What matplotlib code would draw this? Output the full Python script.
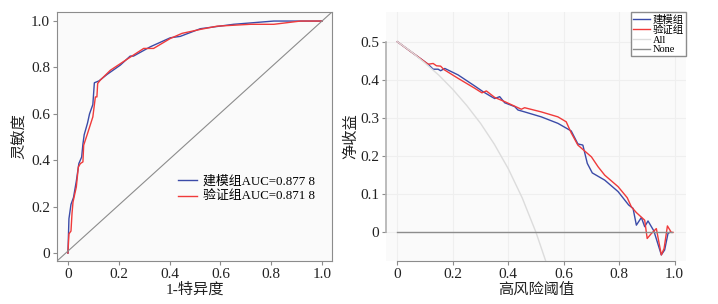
import matplotlib
matplotlib.use("Agg")
import matplotlib.pyplot as plt

plt.rcParams['font.family'] = ['Liberation Serif', 'Noto Sans CJK SC']
plt.rcParams['axes.unicode_minus'] = False

# ROC data
roc_train_x = [0, 0.004, 0.012, 0.022, 0.033, 0.043, 0.054, 0.059, 0.064, 0.077, 0.085, 0.098,
               0.104, 0.122, 0.154, 0.206, 0.245, 0.258, 0.324, 0.403, 0.442, 0.521, 0.652, 0.81, 1.0]
roc_train_y = [0, 0.148, 0.21, 0.24, 0.31, 0.386, 0.414, 0.47, 0.51, 0.56, 0.60, 0.64,
               0.734, 0.742, 0.77, 0.81, 0.849, 0.849, 0.889, 0.928, 0.934, 0.967, 0.986, 1.0, 1.0]
roc_valid_x = [0, 0.004, 0.012, 0.016, 0.02, 0.033, 0.041, 0.049, 0.059, 0.062, 0.077, 0.098,
               0.108, 0.114, 0.117, 0.127, 0.167, 0.232, 0.298, 0.337, 0.403, 0.449, 0.521,
               0.587, 0.718, 0.81, 0.915, 1.0]
roc_valid_y = [0, 0.083, 0.095, 0.17, 0.22, 0.285, 0.371, 0.386, 0.393, 0.465, 0.515, 0.587,
               0.673, 0.673, 0.731, 0.745, 0.788, 0.835, 0.882, 0.882, 0.925, 0.947, 0.964,
               0.978, 0.986, 0.986, 1.0, 1.0]
auc_labels = ["建模组AUC=0.877 8", "验证组AUC=0.871 8"]

# DCA data
dca_train_x = [0, 0.111, 0.129, 0.147, 0.156, 0.171, 0.219, 0.279, 0.309, 0.339, 0.351, 0.369,
               0.387, 0.423, 0.435, 0.459, 0.519, 0.579, 0.627, 0.651, 0.669, 0.685, 0.703,
               0.748, 0.796, 0.834, 0.850, 0.862, 0.880, 0.892, 0.904, 0.925, 0.952, 0.964,
               0.976, 0.982]
dca_train_y = [0.5, 0.441, 0.428, 0.428, 0.424, 0.430, 0.413, 0.384, 0.369, 0.356, 0.351, 0.356,
               0.340, 0.330, 0.321, 0.316, 0.303, 0.286, 0.266, 0.232, 0.229, 0.181, 0.156,
               0.137, 0.107, 0.072, 0.063, 0.019, 0.039, 0.015, 0.030, 0.004, -0.059, -0.046,
               -0.003, 0.0]
dca_valid_x = [0, 0.111, 0.129, 0.141, 0.156, 0.168, 0.219, 0.279, 0.305, 0.321, 0.351, 0.387,
               0.423, 0.447, 0.459, 0.519, 0.579, 0.609, 0.627, 0.651, 0.70, 0.724, 0.748,
               0.796, 0.829, 0.844, 0.862, 0.892, 0.901, 0.916, 0.934, 0.952, 0.962, 0.974,
               0.988, 0.994]
dca_valid_y = [0.5, 0.441, 0.443, 0.437, 0.436, 0.427, 0.404, 0.378, 0.366, 0.371, 0.354, 0.343,
               0.331, 0.323, 0.327, 0.316, 0.303, 0.290, 0.261, 0.229, 0.198, 0.172, 0.150,
               0.120, 0.091, 0.067, 0.052, 0.032, -0.016, -0.003, 0.010, -0.059, -0.042, 0.017,
               0.0, 0.0]
all_x = [0, 0.05, 0.1, 0.15, 0.2, 0.25, 0.3, 0.35, 0.4, 0.45, 0.5, 0.535]
all_y = [0.5, 0.474, 0.444, 0.412, 0.375, 0.333, 0.286, 0.231, 0.167, 0.091, 0.0, -0.075]
none_x = [0, 0.99]
none_y = [0, 0]
dca_labels = ["建模组", "验证组", "All", "None"]

blue = "#3b4ba8"
red = "#f03a3a"
gray = "#8c8c8c"

fig = plt.figure(figsize=(7.18, 3.04), dpi=100)

# ---- ROC ----
ax1 = fig.add_axes([57/718, 43/304, 275/718, 249/304])
ax1.set_facecolor("#fafafa")
ax1.plot(roc_train_x, roc_train_y, color=blue, lw=1.0, label=auc_labels[0])
ax1.plot(roc_valid_x, roc_valid_y, color=red, lw=1.0, label=auc_labels[1])
ax1.plot([0, 1], [0, 1], transform=ax1.transAxes, color=gray, lw=0.8)
ax1.set_xlim(-0.043, 1.039)
ax1.set_ylim(-0.034, 1.039)
ax1.set_xticks([0, 0.2, 0.4, 0.6, 0.8, 1.0])
ax1.set_xticklabels(["0", "0.2", "0.4", "0.6", "0.8", "1.0"])
ax1.set_yticks([0, 0.2, 0.4, 0.6, 0.8, 1.0])
ax1.set_yticklabels(["0", "0.2", "0.4", "0.6", "0.8", "1.0"])
for s in ax1.spines.values():
    s.set_color(gray)
ax1.tick_params(length=3, color=gray, labelsize=11, labelcolor="#222222", pad=2)
ax1.set_xlabel("1-特异度", fontsize=11, color="#222222", labelpad=1)
ax1.set_ylabel("灵敏度", fontsize=11, color="#222222", labelpad=3)
ax1.legend(loc="upper left", bbox_to_anchor=(0.44, 0.345), frameon=False, fontsize=9.3,
           borderaxespad=0, borderpad=0, handlelength=1.5, handletextpad=0.4,
           labelspacing=0.3)

# ---- DCA ----
ax2 = fig.add_axes([386/718, 43/304, 300/718, 249/304])
ax2.set_facecolor("#fafafa")
ax2.grid(True, color="#efefef", lw=0.8)
ax2.set_axisbelow(True)
ax2.plot(dca_train_x, dca_train_y, color=blue, lw=1.0, label=dca_labels[0])
ax2.plot(dca_valid_x, dca_valid_y, color=red, lw=1.0, label=dca_labels[1])
ax2.plot(all_x, all_y, color="#dcdcdc", lw=1.0, label=dca_labels[2])
ax2.plot(none_x, none_y, color=gray, lw=1.0, label=dca_labels[3])
ax2.set_xlim(-0.041, 1.041)
ax2.set_ylim(-0.075, 0.578)
ax2.set_xticks([0, 0.2, 0.4, 0.6, 0.8, 1.0])
ax2.set_xticklabels(["0", "0.2", "0.4", "0.6", "0.8", "1.0"])
ax2.set_yticks([0, 0.1, 0.2, 0.3, 0.4, 0.5])
ax2.set_yticklabels(["0", "0.1", "0.2", "0.3", "0.4", "0.5"])
ax2.spines["top"].set_visible(False)
ax2.spines["right"].set_visible(False)
ax2.spines["left"].set_bounds(0, 0.5)
ax2.spines["bottom"].set_bounds(0, 1.0)
ax2.spines["left"].set_color("#b0b0b0")
ax2.spines["bottom"].set_color(gray)
ax2.spines["left"].set_linewidth(1.2)
ax2.tick_params(length=3, color=gray, labelsize=11, labelcolor="#222222", pad=2)
ax2.set_xlabel("高风险阈值", fontsize=11, color="#222222", labelpad=1)
ax2.set_ylabel("净收益", fontsize=11, color="#222222", labelpad=1)
leg = ax2.legend(loc="upper right", bbox_to_anchor=(1.0, 1.0), borderaxespad=0, fontsize=7.5,
                 handlelength=1.6, handletextpad=0.3, labelspacing=0.05, borderpad=0.2,
                 fancybox=False, framealpha=1)
leg.get_frame().set_edgecolor(gray)
leg.get_frame().set_linewidth(1.0)

fig.savefig("out.png", dpi=100)
